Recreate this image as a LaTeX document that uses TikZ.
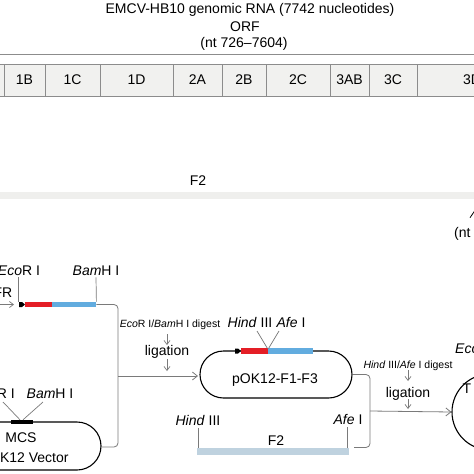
\documentclass[tikz,border=0pt]{standalone}
\usepackage{fontspec}
\setmainfont{Liberation Sans}
\usetikzlibrary{arrows.meta,shapes.misc}
\definecolor{segfill}{HTML}{F1F1EF}
\definecolor{seggray}{HTML}{8C8C8C}
\definecolor{fbar}{HTML}{EFEFED}
\definecolor{fbartwo}{HTML}{BFD2DF}
\definecolor{rred}{HTML}{E41E26}
\definecolor{bblue}{HTML}{62ACDF}
\definecolor{conn}{HTML}{7A7A7A}
\begin{document}
\begin{tikzpicture}[x=1pt,y=-1pt,
  big/.style={font=\fontsize{14}{16}\selectfont, inner sep=0pt},
  small/.style={font=\fontsize{10.5}{12}\selectfont, inner sep=0pt},
  seg/.style={draw=seggray, fill=segfill, line width=0.8pt, minimum height=32pt, inner sep=0pt, font=\fontsize{14}{16}\selectfont},
  conline/.style={draw=conn, line width=0.8pt},
  plasmid/.style={draw=black, line width=1.1pt, rounded rectangle, inner sep=0pt},
  tickline/.style={draw=conn, line width=0.7pt},
  barR/.style={fill=rred, minimum height=5.5pt, inner sep=0pt, anchor=west},
  barB/.style={fill=bblue, minimum height=5.5pt, inner sep=0pt, anchor=west},
  smallarr/.style={draw=conn, line width=0.7pt, -{Straight Barb[length=4pt,width=6pt]}},
  bigarr/.style={draw=conn, line width=0.8pt, -{Straight Barb[length=5pt,width=8pt]}},
]
\useasboundingbox (0,0) rectangle (474,474);
\fill[white] (0,0) rectangle (474,474);
\begin{scope}
\clip (0,0) rectangle (474,474);

% ---------- header ----------
\node[big, anchor=base] (title) at (250,13) {EMCV-HB10 genomic RNA (7742 nucleotides)};
\node[big, anchor=base] (orf) at (245,31) {ORF};
\node[big, anchor=base] (ntorf) at (244,47.5) {(nt 726--7604)};
\draw[draw=seggray, line width=0.9pt] (0,54) -- (474,54);

% ---------- segments ----------
\node[seg, minimum width=44pt] (s1A) at (-18,80) {};
\node[seg, minimum width=41pt] (s1B) at (24.5,80) {1B};
\node[seg, minimum width=55pt] (s1C) at (72.5,80) {1C};
\node[seg, minimum width=73pt] (s1D) at (136.5,80) {1D};
\node[seg, minimum width=49pt] (s2A) at (197.5,80) {2A};
\node[seg, minimum width=44pt] (s2B) at (244,80) {2B};
\node[seg, minimum width=64pt] (s2C) at (298,80) {2C};
\node[seg, minimum width=39pt] (s3AB) at (349.5,80) {3AB};
\node[seg, minimum width=48pt] (s3C) at (393,80) {3C};
\node[seg, minimum width=110pt] (s3D) at (472,80) {3D};

% ---------- F2 top bar ----------
\node[big, anchor=base] (ftwotop) at (198,185) {F2};
\node[fill=fbar, minimum width=480pt, minimum height=7pt, inner sep=0pt] (fbartop) at (234,195.5) {};
\node[big, anchor=base west] (ntr) at (454,237) {(nt};
\coordinate (uptip) at (475.5,209);
\draw[black, line width=0.8pt, -{Straight Barb[length=8pt,width=11pt]}] (475.5,226) -- (uptip);

% ---------- insert fragment (top left) ----------
\node[big, anchor=base] (ecoA) at (19,275) {\textit{Eco}R I};
\node[big, anchor=base] (bamA) at (96,275) {\textit{Bam}H I};
\node[big, anchor=base east] (frA) at (12.5,297) {FR};
\node[barR, minimum width=27pt] (redA) at (25,304.5) {};
\node[barB, minimum width=44pt] (blueA) at (52,304.5) {};
\fill[black] (19,302) -- (22,302) -- (25,304.5) -- (22,307) -- (19,307) -- cycle;
\coordinate (frtail) at (0,304.5);
\draw[smallarr] (frtail) -- (14,304.5);
\draw[tickline] ([yshift=-2pt]ecoA.south -| 18,0) -- (18,302);
\draw[tickline] ([yshift=-2pt]bamA.south) -- (blueA.north east);

% ---------- MCS vector ----------
\node[plasmid, minimum width=181pt, minimum height=48pt] (vec) at (10.5,446) {};
\node[fill=black, minimum width=22pt, minimum height=4pt, inner sep=0pt] (mcsbar) at (22,422) {};
\node[big, anchor=base east] (ecoB) at (15,398) {\textit{Eco}R I};
\node[big, anchor=base] (bamB) at (50,398) {\textit{Bam}H I};
\draw[tickline] (3,402) -- ([xshift=-2pt]mcsbar.north);
\draw[tickline] (43,402) -- ([xshift=1pt]mcsbar.north);
\node[big, anchor=base] (mcs) at (21,442) {MCS};
\node[big, anchor=base] (veclabel) at (25,462) {pOK12 Vector};

% ---------- left brace and ligation ----------
\draw[conline, rounded corners=4pt] (blueA.east) -- (118,304.5) -- (118,447) -- (vec.east |- 0,447);
\node[small, anchor=base] (digA) at (170,327) {\textit{Eco}R I/\textit{Bam}H I digest};
\node[big, anchor=base] (ligA) at (167,355) {ligation};
\draw[smallarr] (167,334) -- (167,345);
\draw[smallarr] (167,359) -- (167,371);
\draw[bigarr] (118,376) -- (198,376);

% ---------- pOK12-F1-F3 ----------
\node[plasmid, minimum width=152pt, minimum height=47pt] (pok) at (276,374.5) {};
\node[big, anchor=base] (poklabel) at (275,383) {pOK12-F1-F3};
\node[barR, minimum width=27pt] (redB) at (241,351) {};
\node[barB, minimum width=45pt] (blueB) at (268,351) {};
\fill[black] (235,348.5) -- (238,348.5) -- (241,351) -- (238,353.5) -- (235,353.5) -- cycle;
\node[big, anchor=base] (hindB) at (250,327) {\textit{Hind} III};
\node[big, anchor=base] (afeB) at (291,327) {\textit{Afe} I};
\coordinate (jB) at (268,348.5);
\draw[tickline] (257,331) -- ([xshift=-0.5pt]jB);
\draw[tickline] (279,331) -- ([xshift=0.5pt]jB);

% ---------- F2 fragment (bottom) ----------
\node[fill=fbartwo, minimum width=152pt, minimum height=7pt, inner sep=0pt] (ftwobar) at (273,451.5) {};
\node[big, anchor=base] (ftwob) at (276,445) {F2};
\node[big, anchor=base] (hindC) at (198,425) {\textit{Hind} III};
\node[big, anchor=base] (afeC) at (348,424) {\textit{Afe} I};
\draw[tickline] ([yshift=-3pt]hindC.south) -- (hindC.south |- ftwobar.north);
\draw[tickline] ([yshift=-3pt,xshift=-1pt]afeC.south) -- ([xshift=-1pt]afeC.south |- ftwobar.north);

% ---------- right brace and ligation ----------
\draw[conline, rounded corners=4pt] (pok.east) -- (370,374.5) -- (370,447.5) -- (354,447.5);
\node[small, anchor=base] (digB) at (408,368) {\textit{Hind} III/\textit{Afe} I digest};
\node[big, anchor=base] (ligB) at (408,397) {ligation};
\draw[smallarr] (408,370) -- (408,381);
\draw[smallarr] (408,399) -- (408,409);

\node[draw=black, line width=1.1pt, circle, minimum size=76pt, inner sep=0pt] (tcirc) at (490,412) {};
\draw[bigarr] (370,411) -- (tcirc.west);
\node[big, anchor=base] (tlabel) at (467,393) {T};
\node[big, anchor=base west] (ecoC) at (455,353) {\textit{Eco}R I};
\end{scope}
\end{tikzpicture}
\end{document}
